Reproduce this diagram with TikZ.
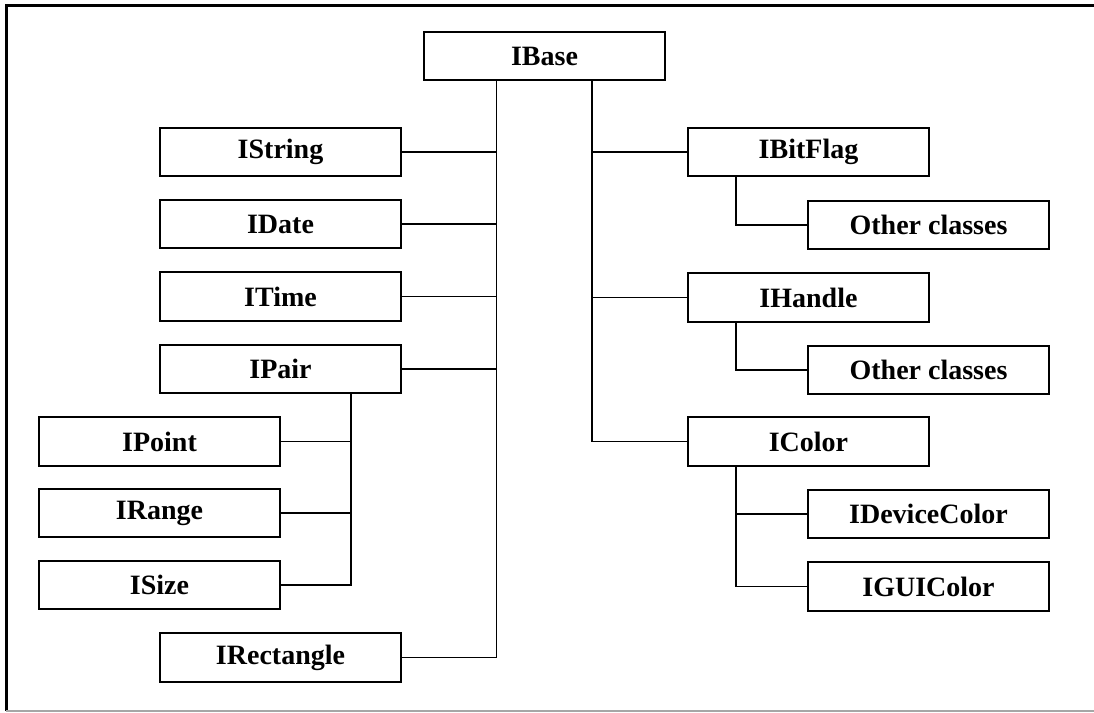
\documentclass[tikz,border=0pt]{standalone}
\usepackage{fontspec}
\setmainfont{Liberation Serif}
\begin{document}
\begin{tikzpicture}[x=1pt,y=-1pt,
  cls/.style={draw=black, line width=2.2pt, fill=white, inner sep=0pt,
    minimum width=241pt, minimum height=48.5pt,
    font=\fontsize{28}{32}\selectfont\bfseries},
  link/.style={draw=black, line width=1.8pt}]
\useasboundingbox (0,0) rectangle (1094,712);

% outer frame
\draw[line width=3pt] (6,711) -- (6,5) -- (1096,5);
\draw[line width=2pt, gray!70] (6,710.5) -- (1096,710.5);

% root
\node[cls] (ibase) at (544.5,56) {IBase};

% left column
\node[cls] (istring) at (280.5,152)   {IString};
\node[cls] (idate)   at (280.5,224)   {IDate};
\node[cls] (itime)   at (280.5,296.5) {ITime};
\node[cls] (ipair)   at (280.5,369)   {IPair};
\node[cls] (irect)   at (280.5,657.5) {IRectangle};

% children of IPair
\node[cls] (ipoint)  at (159.5,441.5) {IPoint};
\node[cls] (irange)  at (159.5,513)   {IRange};
\node[cls] (isize)   at (159.5,585)   {ISize};

% right column
\node[cls] (ibitflag) at (808.5,152)   {IBitFlag};
\node[cls] (ihandle)  at (808.5,297.5) {IHandle};
\node[cls] (icolor)   at (808.5,441.5) {IColor};

% grandchildren on the right
\node[cls] (otherA)  at (928.5,225)   {Other classes};
\node[cls] (otherB)  at (928.5,370)   {Other classes};
\node[cls] (idevice) at (928.5,514)   {IDeviceColor};
\node[cls] (igui)    at (928.5,586.5) {IGUIColor};

% bus columns
\coordinate (lt) at (496.5,0);
\coordinate (rt) at (592,0);
\coordinate (pt) at (351,0);
\coordinate (st) at (736,0);

% left bus
\draw[link] (ibase.south -| lt) |- (irect.east);
\foreach \n in {istring,idate,itime,ipair}
  \draw[link] (\n.east) -- (\n.east -| lt);

% right bus
\draw[link] (ibase.south -| rt) |- (icolor.west);
\foreach \n in {ibitflag,ihandle}
  \draw[link] (\n.west) -- (\n.west -| rt);

% IPair bus
\draw[link] (ipair.south -| pt) |- (isize.east);
\foreach \n in {ipoint,irange}
  \draw[link] (\n.east) -- (\n.east -| pt);

% right sub-buses
\draw[link] (ibitflag.south -| st) |- (otherA.west);
\draw[link] (ihandle.south -| st) |- (otherB.west);
\draw[link] (icolor.south -| st) |- (igui.west);
\draw[link] (idevice.west) -- (idevice.west -| st);
\end{tikzpicture}
\end{document}
